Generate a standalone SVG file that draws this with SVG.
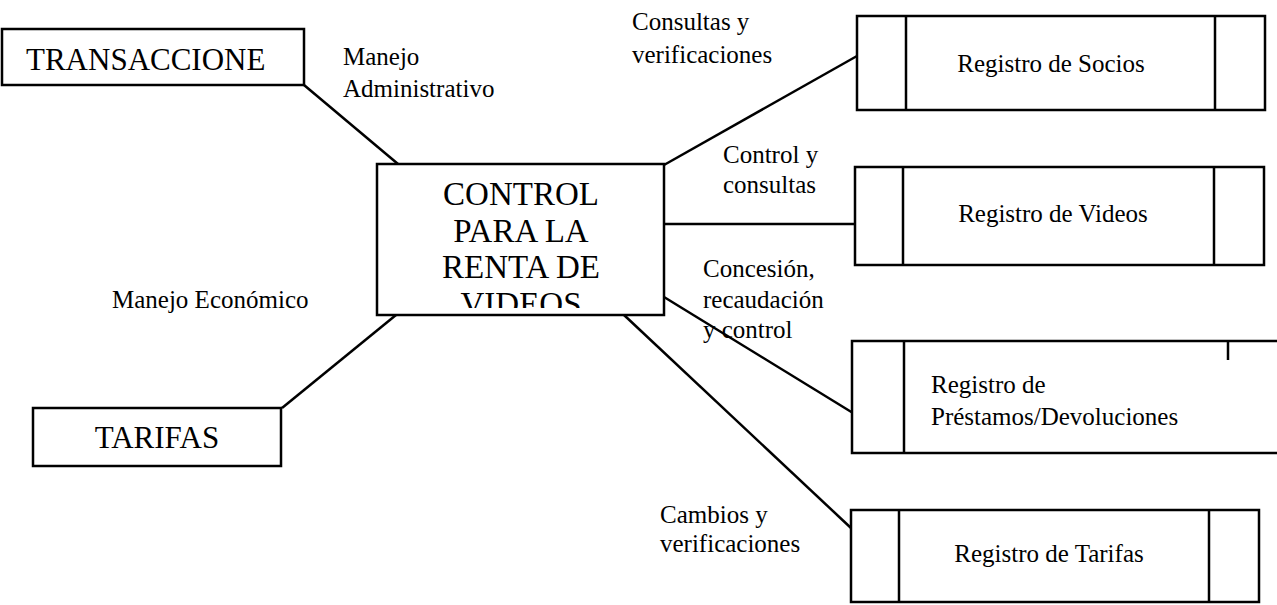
<svg xmlns="http://www.w3.org/2000/svg" width="1277" height="605" viewBox="0 0 1277 605">
<style>
.box{fill:#fff;stroke:#000;stroke-width:2.5}
.ln{fill:none;stroke:#000;stroke-width:2.5}
.big{font-family:"Liberation Serif",serif;font-size:31px;fill:#000}
.ctl{font-family:"Liberation Serif",serif;font-size:33px;fill:#000;text-anchor:middle}
.lbl{font-family:"Liberation Serif",serif;font-size:25px;fill:#000}
.mid{text-anchor:middle}
</style>
<defs>
<clipPath id="cclip"><rect x="378" y="165" width="286" height="143"/></clipPath>
</defs>
<rect width="1277" height="605" fill="#fff"/>
<g id="connectors">
<line class="ln" x1="304" y1="85" x2="398" y2="164"/>
<line class="ln" x1="396" y1="315" x2="282" y2="408"/>
<line class="ln" x1="664" y1="165" x2="857" y2="56"/>
<line class="ln" x1="664" y1="224" x2="855" y2="224"/>
<line class="ln" x1="664" y1="297" x2="853" y2="413"/>
<line class="ln" x1="624" y1="315" x2="851" y2="528"/>
</g>
<g id="labels">
<text class="lbl" x="343" y="65">Manejo</text>
<text class="lbl" x="343" y="97">Administrativo</text>
<text class="lbl" x="112" y="308">Manejo Económico</text>
<text class="lbl" x="632" y="30">Consultas y</text>
<text class="lbl" x="632" y="63">verificaciones</text>
<text class="lbl" x="723" y="163">Control y</text>
<text class="lbl" x="723" y="193">consultas</text>
<text class="lbl" x="703" y="277">Concesión,</text>
<text class="lbl" x="703" y="308">recaudación</text>
<text class="lbl" x="703" y="338">y control</text>
<text class="lbl" x="660" y="523">Cambios y</text>
<text class="lbl" x="660" y="552">verificaciones</text>
</g>
<g id="transacciones">
<rect class="box" x="2" y="29" width="302" height="56"/>
<text class="big" x="26" y="70">TRANSACCIONE</text>
</g>
<g id="tarifas">
<rect class="box" x="33" y="408" width="248" height="58"/>
<text class="big mid" x="157" y="448">TARIFAS</text>
</g>
<g id="control">
<rect class="box" x="377" y="164" width="287" height="151"/>
<g clip-path="url(#cclip)">
<text class="ctl" x="521" y="205">CONTROL</text>
<text class="ctl" x="521" y="242">PARA LA</text>
<text class="ctl" x="521" y="278">RENTA DE</text>
<text class="ctl" x="521" y="315">VIDEOS</text>
</g>
</g>
<g id="reg-socios">
<rect class="box" x="857" y="16" width="408" height="94"/>
<line class="ln" x1="906" y1="16" x2="906" y2="110"/>
<line class="ln" x1="1215" y1="16" x2="1215" y2="110"/>
<text class="lbl mid" x="1051" y="72">Registro de Socios</text>
</g>
<g id="reg-videos">
<rect class="box" x="855" y="167" width="409" height="98"/>
<line class="ln" x1="903" y1="167" x2="903" y2="265"/>
<line class="ln" x1="1214" y1="167" x2="1214" y2="265"/>
<text class="lbl mid" x="1053" y="222">Registro de Videos</text>
</g>
<g id="reg-prestamos">
<rect class="box" x="852" y="341" width="440" height="112"/>
<line class="ln" x1="904" y1="341" x2="904" y2="453"/>
<line class="ln" x1="1228" y1="341" x2="1228" y2="360"/>
<text class="lbl" x="931" y="393">Registro de</text>
<text class="lbl" x="931" y="425">Préstamos/Devoluciones</text>
</g>
<g id="reg-tarifas">
<rect class="box" x="851" y="510" width="408" height="92"/>
<line class="ln" x1="899" y1="510" x2="899" y2="602"/>
<line class="ln" x1="1209" y1="510" x2="1209" y2="602"/>
<text class="lbl mid" x="1049" y="562">Registro de Tarifas</text>
</g>
</svg>
